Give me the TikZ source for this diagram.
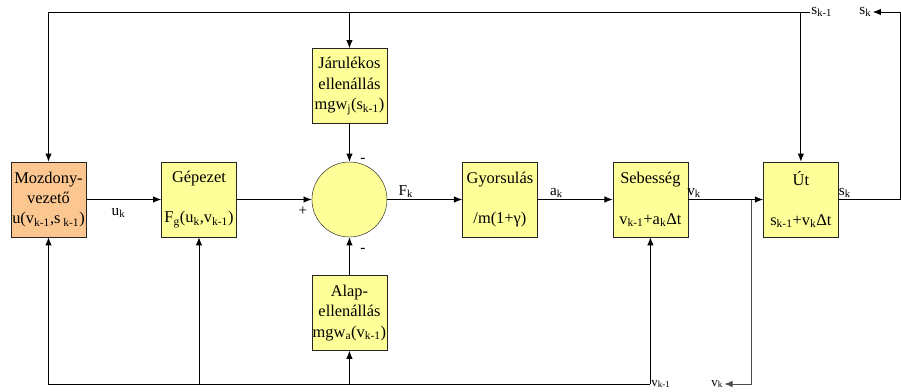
\documentclass[tikz,border=0pt]{standalone}
\usepackage{fontspec}
\setmainfont{Liberation Serif}
\usetikzlibrary{positioning,arrows.meta}
\definecolor{blockyellow}{HTML}{FFFF99}
\definecolor{driverorange}{HTML}{FCC690}
\newcommand{\lo}[1]{\textsubscript{#1}}
\begin{document}
\begin{tikzpicture}[x=0.03cm, y=-0.03cm, node distance=2.25cm, font=\fontsize{14}{17.4}\selectfont]
    \tikzset{ block/.style={rectangle,draw=black!85,fill=blockyellow,minimum width=2.25cm,minimum height=2.25cm,inner sep=0pt,align=center},
            arrow/.style={-{Latex[length=7pt,width=5.5pt]}, line width=0.8pt},
            sig/.style={font=\fontsize{13}{15}\selectfont, inner sep=1pt}}
    \useasboundingbox (0,0) rectangle (901,391);

    \node[block, fill=driverorange] at (48.5,199.5) (mozd) {Mozdony-\\vezető\\u(v\lo{k-1},s\lo{ k-1})};
    \node[block, right=of mozd] (gep) {Gépezet\\[17pt]F\lo{g}(u\lo{k},v\lo{k-1})};
    \node[circle, draw=black!85, fill=blockyellow, minimum size=2.25cm, inner sep=0pt, right=of gep] (sum) {};
    \node[block, above=1.14cm of sum] (jarul) {Járulékos\\ellenállás\\mgw\lo{j}(s\lo{k-1})};
    \node[block, below=1.14cm of sum] (alap) {Alap-\\ellenállás\\mgw\lo{a}(v\lo{k-1})};
    \node[block, right=of sum] (gyors) {Gyorsulás\\[17pt]/m(1+γ)};
    \node[block, right=of gyors] (sebes) {Sebesség\\[17pt]v\lo{k-1}+a\lo{k}Δt};
    \node[block, right=of sebes] (ut) {Út\\[17pt]s\lo{k-1}+v\lo{k}Δt};

    % jelek
    \node[sig, anchor=west] at (810,12) (sprev) {s\lo{k-1}};
    \node[sig, anchor=west] at (858,12) (snext) {s\lo{k}};
    \node[sig, anchor=west, font=\fontsize{11}{13}\selectfont] at (650,384) (vprev) {v\lo{k-1}};
    \node[sig, anchor=west, font=\fontsize{11}{13}\selectfont] at (710,384) (vnow) {v\lo{k}};
    \node[sig] at (303,211) (plus) {+};
    \node[sig] at (363,160) (minusup) {-};
    \node[sig] at (363,250) (minusdown) {-};

    % Nyilak
    \draw[arrow] (mozd) -- node[sig, below=6pt, pos=0.43] {u\lo{k}} (gep);
    \draw[arrow] (gep) -- (sum);
    \draw[arrow] (sum) -- node[sig, above, pos=0.25] {F\lo{k}} (gyors);
    \draw[arrow] (gyors) -- node[sig, above, pos=0.25] {a\lo{k}} (sebes);
    \draw[arrow] (sebes) -- node[sig, above, pos=0.08] {v\lo{k}} (ut);
    \draw[arrow] (jarul) -- (sum);
    \draw[arrow] (alap) -- (sum);

    % visszacsatolás felül
    \draw[arrow] (sprev.west) -| (mozd.north);
    \draw[arrow] (sprev.west -| jarul.north) -- (jarul.north);
    \draw[arrow] (sprev.west -| ut.north) -- (ut.north);
    \draw[arrow] (ut.east) -- node[sig, above, pos=0.1] {s\lo{k}} ++(62,0) |- (snext.east);

    % visszacsatolás alul
    \draw[arrow] (vprev.west) -| (mozd.south);
    \draw[arrow] (vprev.west -| gep.south) -- (gep.south);
    \draw[arrow] (vprev.west -| alap.south) -- (alap.south);
    \draw[arrow] (vprev.west -| sebes.south) -- (sebes.south);
    \draw[arrow, black!70] (sebes.east) ++(63,0) |- (vnow.east);
\end{tikzpicture}
\end{document}
